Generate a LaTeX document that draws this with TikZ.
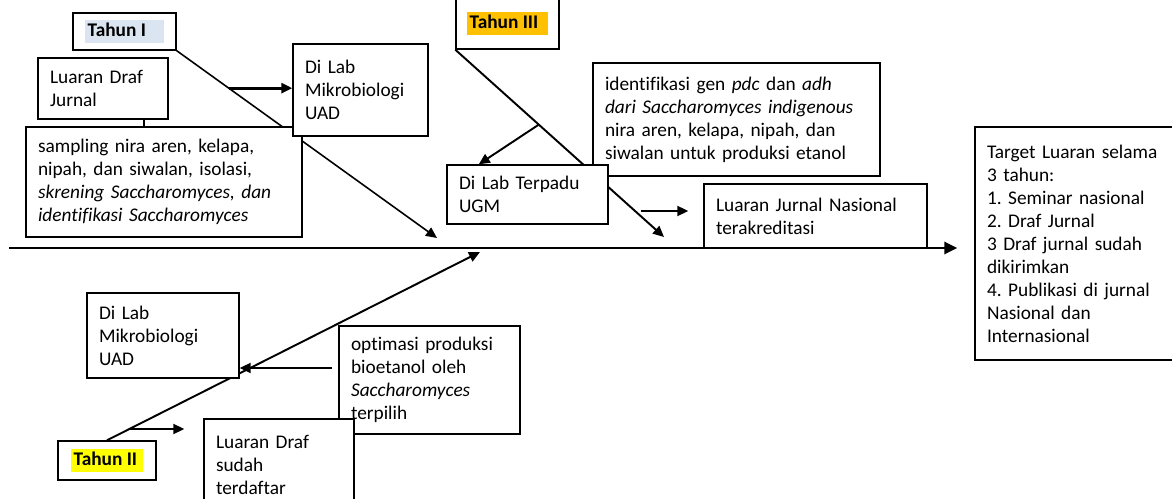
\documentclass[tikz,border=0pt]{standalone}
\usepackage{fontspec}
\setmainfont{Carlito}[RawFeature={-liga;-clig;-calt;-dlig}]
\usepackage{xcolor}
\usepackage{tikz}
\usetikzlibrary{arrows.meta, calc, backgrounds}

\definecolor{hlblue}{HTML}{DBE5F1}
\definecolor{hlorange}{HTML}{FFC000}
\definecolor{hlyellow}{HTML}{FFFF00}

% highlighted year label: colour, width, text
\newcommand{\tahunmark}[3]{{\setlength{\fboxsep}{0pt}\colorbox{#1}{\makebox[#2][l]{\strut\hspace{1.5pt}#3}}}}

\begin{document}
\frenchspacing
\begin{tikzpicture}[
        x=0.02cm, y=-0.02cm,
        box/.style={
            draw,
            fill=white,
            line width=0.8pt,
            align=left,
            inner xsep=0.24cm,
            inner ysep=0pt,
            font=\fontsize{11}{13.1}\selectfont
        },
        tahunbox/.style={
            draw,
            fill=white,
            line width=0.8pt,
            inner sep=0pt,
            font=\fontsize{11}{13.1}\selectfont\bfseries
        },
        arrow/.style={-{Triangle[length=2.2mm, width=2mm]}, line width=1.1pt},
        spine/.style={-{Triangle[length=2.6mm, width=2.4mm]}, line width=1.7pt}
    ]
        \useasboundingbox (0,0) rectangle (1172,499);

        % year 1 (upper left)
        \node[tahunbox, minimum width=2.06cm, minimum height=0.74cm] (thn1) at (124.5,31.5)
            {\tahunmark{hlblue}{1.58cm}{Tahun I}};
        \node[box, text width=2.12cm, minimum height=1.22cm] (drafjurnal) at (103,88.5)
            {Luaran Draf\\Jurnal};
        \node[box, text width=5.04cm, minimum height=2.2cm] (sampling) at (164,182)
            {sampling nira aren, kelapa,\\nipah, dan siwalan, isolasi,\\
             \textit{skrening Saccharomyces, dan}\\\textit{identifikasi Saccharomyces}};
        \node[box, text width=2.22cm, minimum height=1.84cm] (labuad1) at (360.5,90)
            {Di Lab\\Mikrobiologi\\UAD};

        % year 3 (upper middle)
        \node[tahunbox, minimum width=2.06cm, minimum height=1.02cm] (thn3) at (507.5,23.5)
            {\tahunmark{hlorange}{1.62cm}{Tahun III}};
        \node[box, text width=5.26cm, minimum height=2.26cm] (gen) at (736.5,119.5)
            {identifikasi gen \textit{pdc} dan \textit{adh}\\\textit{dari Saccharomyces indigenous}\\
             nira aren, kelapa, nipah, dan\\siwalan untuk produksi etanol};
        \node[box, text width=2.74cm, minimum height=1.18cm] (labugm) at (527.5,194.5)
            {Di Lab Terpadu\\UGM};
        \node[box, text width=3.98cm, minimum height=1.28cm] (jurnalnas) at (815.5,216)
            {Luaran Jurnal Nasional\\terakreditasi};

        \node[box, text width=3.62cm, minimum height=4.66cm] (target) at (1077.5,243.5)
            {Target Luaran selama\\3 tahun:\\1. Seminar nasional\\2. Draf Jurnal\\
             3 Draf jurnal sudah\\dikirimkan\\4. Publikasi di jurnal\\Nasional dan\\Internasional};

        % year 2 (bottom)
        \node[box, text width=2.56cm, minimum height=1.7cm] (labuad2) at (163,335.5)
            {Di Lab\\Mikrobiologi\\UAD};
        \node[box, text width=3.14cm, minimum height=2.16cm] (optimasi) at (429.5,380)
            {optimasi produksi\\bioetanol oleh\\\textit{Saccharomyces}\\terpilih};
        \node[tahunbox, minimum width=1.96cm, minimum height=0.78cm] (thn2) at (107,460.5)
            {\tahunmark{hlyellow}{1.44cm}{Tahun II}};
        \node[box, text width=2.52cm, minimum height=1.82cm] (drafdaftar) at (279,464.5)
            {Luaran Draf\\sudah\\terdaftar};

        \coordinate (spinestart) at (9,248);
        \coordinate (tip1) at (437,238);
        \coordinate (tip3) at (664,237);
        \coordinate (tip2) at (480,252);

        \begin{scope}[on background layer]
            \draw[spine, shorten >=0.34cm] (spinestart) -- (spinestart -| target.west);

            \draw[arrow, line width=0.9pt] (thn1.south east) -- (tip1);
            \coordinate (b1) at ($(thn1.south east)!0.2!(tip1)$);
            \draw[arrow, line width=1.7pt] (b1) -- (b1 -| labuad1.west);
            \draw[line width=0.8pt] ([xshift=0.82cm]drafjurnal.south) -- ([xshift=0.82cm]drafjurnal.south |- sampling.north);

            \draw[arrow] (thn3.south west) -- (tip3);
            \coordinate (b3) at ($(thn3.south west)!0.4!(tip3)$);
            \draw[arrow] (b3) -- ($(labugm.north west)!0.2!(labugm.north east)$);
            \coordinate (m3) at (labugm.east |- jurnalnas.west);
            \draw[arrow, shorten <=0.64cm, shorten >=0.3cm] ([yshift=0.1cm]m3) -- ([yshift=0.1cm]jurnalnas.west);

            \draw[arrow] (thn2.north) -- (tip2);
            \coordinate (o2) at ([xshift=-0.12cm, yshift=0.24cm]optimasi.west);
            \draw[arrow] (o2) -- (o2 -| labuad2.east);
            \coordinate (b2) at ($(thn2.north)!0.06!(tip2)$);
            \draw[arrow, shorten >=0.38cm] (b2) -- (b2 -| drafdaftar.west);
        \end{scope}
    \end{tikzpicture}
\end{document}
